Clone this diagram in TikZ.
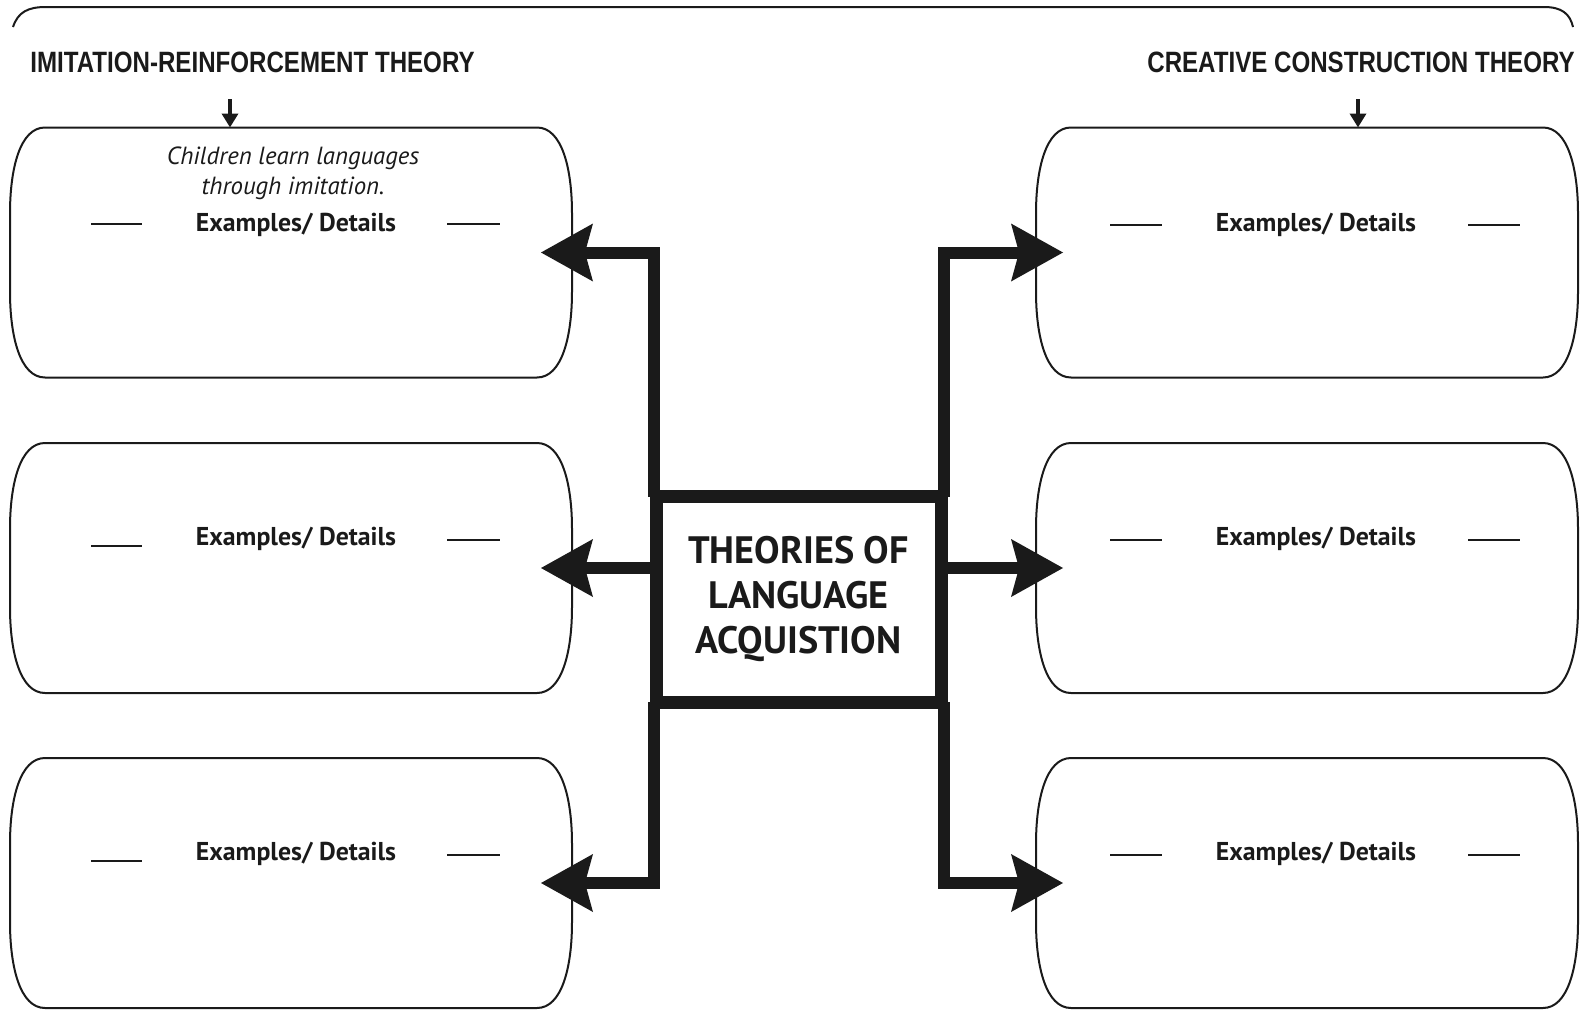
\documentclass[tikz,border=0pt]{standalone}
\usepackage{fontspec}
\setmainfont{PT Sans}
\newfontfamily\condfont[FakeStretch=0.82]{Liberation Sans}
\usetikzlibrary{arrows.meta,calc}
\definecolor{ink}{HTML}{1A1A1A}
\newcommand\barrelbox[1]{%
  \draw[boxline] ([xshift=17.5pt]#1.north west) -- ([xshift=-17.5pt]#1.north east)
    .. controls +(12.5pt,0) and +(0,22.5pt) .. ([yshift=-43pt]#1.north east)
    -- ([yshift=43pt]#1.south east)
    .. controls +(0,-22.5pt) and +(12.5pt,0) .. ([xshift=-17.5pt]#1.south east)
    -- ([xshift=17.5pt]#1.south west)
    .. controls +(-12.5pt,0) and +(0,-22.5pt) .. ([yshift=43pt]#1.south west)
    -- ([yshift=-43pt]#1.north west)
    .. controls +(0,22.5pt) and +(-12.5pt,0) .. ([xshift=17.5pt]#1.north west) -- cycle;}
\begin{document}
\begin{tikzpicture}[x=0.5pt,y=-0.5pt,
  boxline/.style={draw=ink, line width=1pt, line join=round},
  slotL/.style={draw=none, minimum width=281pt, minimum height=125pt, inner sep=0pt, outer sep=0pt},
  slotR/.style={draw=none, minimum width=271pt, minimum height=125pt, inner sep=0pt, outer sep=0pt},
  conn/.style={draw=ink, line width=6pt, line join=miter,
    -{Stealth[length=26pt,width=29pt,inset=4pt,line width=0pt]}},
  smallarrow/.style={draw=ink, line width=1.8pt, -{Triangle[length=7pt,width=8pt]}},
  dashline/.style={draw=ink, line width=0.8pt},
  title/.style={text=ink, font=\condfont\bfseries\fontsize{14.7}{16}\selectfont, inner sep=0pt},
  ex/.style={text=ink, font=\bfseries\fontsize{12.9}{14}\selectfont, inner sep=0pt},
  hubstyle/.style={draw=ink, line width=6.5pt, minimum width=142.5pt, minimum height=102.75pt,
    inner sep=0pt, outer sep=0pt, align=center, text=ink, font=\bfseries\fontsize{19.1}{22.5}\selectfont},
]
\useasboundingbox (0,0) rectangle (1580,1012);

% top bracket
\draw[draw=ink, line width=1pt] (13,27) .. controls (18,12) and (28,7) .. (46,7) -- (1544,7)
  .. controls (1562,7) and (1570,14) .. (1573,27);

% titles
\node[title, anchor=west] (tl) at (30,62.5) {IMITATION-REINFORCEMENT THEORY};
\node[title, anchor=east] (tr) at (1575,62.5) {CREATIVE CONSTRUCTION THEORY};

% box slots
\node[slotL] (L1) at (291,252.5) {};
\node[slotL] (L2) at (291,568) {};
\node[slotL] (L3) at (291,883) {};
\node[slotR] (R1) at (1307,252.5) {};
\node[slotR] (R2) at (1307,568) {};
\node[slotR] (R3) at (1307,883) {};
\barrelbox{L1}\barrelbox{L2}\barrelbox{L3}
\barrelbox{R1}\barrelbox{R2}\barrelbox{R3}

% small arrows
\coordinate (ta) at (230,99);
\coordinate (tb) at (1358,99);
\draw[smallarrow] (ta) -- (ta |- L1.north);
\draw[smallarrow] (tb) -- (tb |- R1.north);

% italic text
\node[text=ink, font=\itshape\fontsize{12.4}{15}\selectfont, align=center, inner sep=0pt] (q) at (293,173)
  {Children learn languages\\through imitation.};

% examples labels
\node[ex] (e1) at (296,225) {Examples/ Details};
\node[ex] (e2) at (296,539) {Examples/ Details};
\node[ex] (e3) at (296,854) {Examples/ Details};
\node[ex] (e4) at (1316,225) {Examples/ Details};
\node[ex] (e5) at (1316,539) {Examples/ Details};
\node[ex] (e6) at (1316,854) {Examples/ Details};

% dashes
\draw[dashline] (91,224) -- (142,224);  \draw[dashline] (447,224) -- (500,224);
\draw[dashline] (91,546) -- (142,546);  \draw[dashline] (447,540) -- (500,540);
\draw[dashline] (91,861) -- (142,861);  \draw[dashline] (447,855) -- (500,855);
\draw[dashline] (1110,225) -- (1162,225); \draw[dashline] (1468,225) -- (1520,225);
\draw[dashline] (1110,540) -- (1162,540); \draw[dashline] (1468,540) -- (1520,540);
\draw[dashline] (1110,855) -- (1162,855); \draw[dashline] (1468,855) -- (1520,855);

% hub
\node[hubstyle] (hub) at (798.5,599.25) {THEORIES OF\\LANGUAGE\\ACQUISTION};
\coordinate (lx) at ([xshift=-1.25pt]hub.west);
\coordinate (rx) at ([xshift=1.25pt]hub.east);

% connectors
\draw[conn] ([xshift=-1.25pt]hub.north west) |- ([xshift=-15.5pt]L1.east);
\draw[conn] (lx |- L2.east) -- ([xshift=-15.5pt]L2.east);
\draw[conn] ([xshift=-1.25pt]hub.south west) |- ([xshift=-15.5pt]L3.east);
\draw[conn] ([xshift=1.25pt]hub.north east) |- ([xshift=13.5pt]R1.west);
\draw[conn] (rx |- R2.west) -- ([xshift=13.5pt]R2.west);
\draw[conn] ([xshift=1.25pt]hub.south east) |- ([xshift=13.5pt]R3.west);
\end{tikzpicture}
\end{document}
